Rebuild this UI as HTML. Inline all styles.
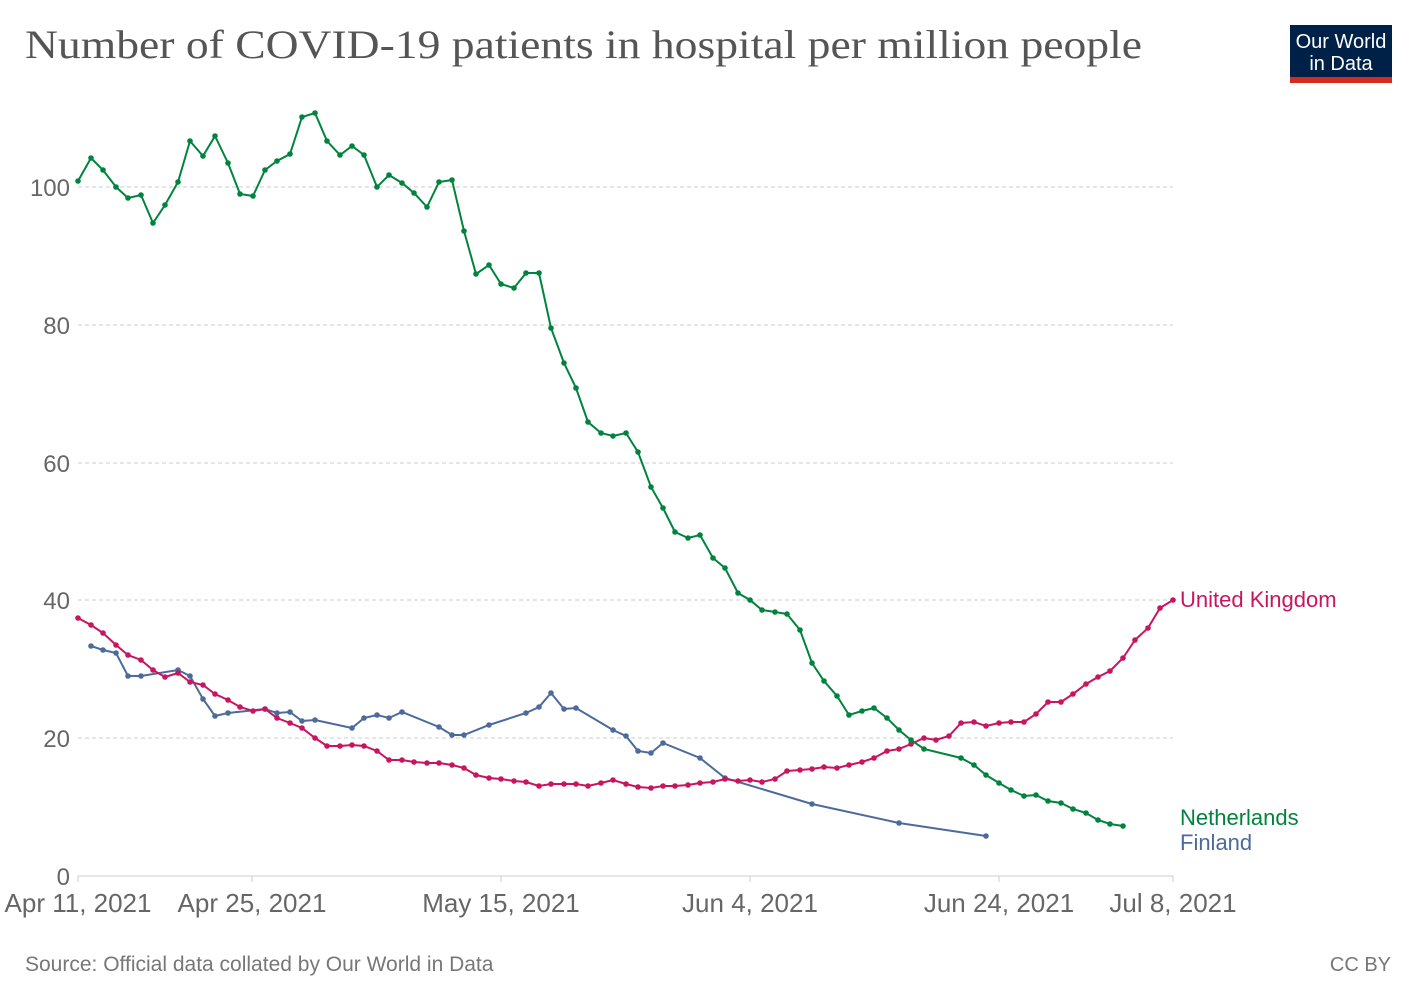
<!DOCTYPE html>
<html><head><meta charset="utf-8"><style>
html,body{margin:0;padding:0;background:#fff;}
svg{display:block;}
</style></head><body>
<svg width="1417" height="1000" xmlns="http://www.w3.org/2000/svg">
<defs>
<marker id="mg" markerWidth="6" markerHeight="6" refX="3" refY="3" markerUnits="userSpaceOnUse"><circle cx="3" cy="3" r="2.8" fill="#00843d"/></marker>
<marker id="mp" markerWidth="6" markerHeight="6" refX="3" refY="3" markerUnits="userSpaceOnUse"><circle cx="3" cy="3" r="2.8" fill="#c8155f"/></marker>
<marker id="mb" markerWidth="6" markerHeight="6" refX="3" refY="3" markerUnits="userSpaceOnUse"><circle cx="3" cy="3" r="2.8" fill="#4c6a9c"/></marker>
</defs>
<text x="25" y="58" font-family="Liberation Serif, serif" font-size="40" fill="#555" textLength="1117" lengthAdjust="spacingAndGlyphs">Number of COVID-19 patients in hospital per million people</text>
<rect x="1290" y="25" width="102" height="52" fill="#002147"/>
<rect x="1290" y="77" width="102" height="6" fill="#d42b21"/>
<text x="1341" y="48" text-anchor="middle" font-family="Liberation Sans, sans-serif" font-size="20" fill="#fff">Our World</text>
<text x="1341" y="70" text-anchor="middle" font-family="Liberation Sans, sans-serif" font-size="20" fill="#fff">in Data</text>
<g stroke="#ccc" stroke-dasharray="4,3" stroke-width="1">
<line x1="78" x2="1173" y1="187" y2="187"/><line x1="78" x2="1173" y1="325" y2="325"/>
<line x1="78" x2="1173" y1="463" y2="463"/><line x1="78" x2="1173" y1="600" y2="600"/>
<line x1="78" x2="1173" y1="738" y2="738"/>
</g>
<line x1="78" x2="1173" y1="876" y2="876" stroke="#ccc"/>
<g stroke="#ccc"><line x1="78" x2="78" y1="876" y2="882"/><line x1="252" x2="252" y1="876" y2="882"/><line x1="501" x2="501" y1="876" y2="882"/><line x1="750" x2="750" y1="876" y2="882"/><line x1="999" x2="999" y1="876" y2="882"/><line x1="1173" x2="1173" y1="876" y2="882"/></g>
<g font-family="Liberation Sans, sans-serif" font-size="24" fill="#666" text-anchor="end">
<text x="70" y="196">100</text><text x="70" y="334">80</text><text x="70" y="472">60</text><text x="70" y="609">40</text><text x="70" y="747">20</text><text x="70" y="885">0</text>
</g>
<g font-family="Liberation Sans, sans-serif" font-size="26" fill="#666" text-anchor="middle">
<text x="78" y="912">Apr 11, 2021</text><text x="252" y="912">Apr 25, 2021</text><text x="501" y="912">May 15, 2021</text><text x="750" y="912">Jun 4, 2021</text><text x="999" y="912">Jun 24, 2021</text><text x="1173" y="912">Jul 8, 2021</text>
</g>
<polyline fill="none" stroke="#4c6a9c" stroke-width="2" marker-start="url(#mb)" marker-mid="url(#mb)" marker-end="url(#mb)" points="91,646 103,650 116,653 128,676 141,676 178,670 190,676 203,699 215,716 228,713 265,709 277,713 290,712 302,721 315,720 352,728 364,718 377,715 389,718 402,712 439,727 452,735 464,735 489,725 526,713 539,707 551,693 564,709 576,708 613,730 626,736 638,751 651,753 663,743 700,758 725,778 812,804 899,823 986,836"/>
<polyline fill="none" stroke="#c8155f" stroke-width="2" marker-start="url(#mp)" marker-mid="url(#mp)" marker-end="url(#mp)" points="78,618 91,625 103,633 116,645 128,655 141,660 153,670 165,677 178,673 190,682 203,685 215,694 228,700 240,707 253,711 265,709 277,718 290,723 302,728 315,738 327,746 340,746 352,745 364,746 377,751 389,760 402,760 414,762 427,763 439,763 452,765 464,768 476,775 489,778 501,779 514,781 526,782 539,786 551,784 564,784 576,784 588,786 601,783 613,780 626,784 638,787 651,788 663,786 675,786 688,785 700,783 713,782 725,779 738,781 750,780 762,782 775,779 787,771 800,770 812,769 824,767 837,768 849,765 862,762 874,758 887,751 899,749 911,744 924,738 936,740 949,736 961,723 974,722 986,726 999,723 1011,722 1024,722 1036,714 1048,702 1061,702 1073,694 1086,684 1098,677 1110,671 1123,658 1135,640 1148,628 1160,608 1173,600"/>
<polyline fill="none" stroke="#00843d" stroke-width="2" marker-start="url(#mg)" marker-mid="url(#mg)" marker-end="url(#mg)" points="78,181 91,158 103,170 116,187 128,198 141,195 153,223 165,205 178,182 190,141 203,156 215,136 228,163 240,194 253,196 265,170 277,161 290,154 302,117 315,113 327,141 340,155 352,146 364,155 377,187 389,175 402,183 414,193 427,207 439,182 452,180 464,231 476,274 489,265 501,284 514,288 526,273 539,273 551,328 564,363 576,388 588,422 601,433 613,436 626,433 638,452 651,487 663,508 675,532 688,538 700,535 713,558 725,568 738,593 750,600 762,610 775,612 787,614 800,630 812,663 824,681 837,696 849,715 862,711 874,708 887,718 899,730 911,740 924,749 961,758 974,765 986,775 999,783 1011,790 1024,796 1036,795 1048,801 1061,803 1073,809 1086,813 1098,820 1110,824 1123,826"/>
<g font-family="Liberation Sans, sans-serif" font-size="22">
<text x="1180" y="607" fill="#c8155f">United Kingdom</text>
<text x="1180" y="825" fill="#00843d">Netherlands</text>
<text x="1180" y="850" fill="#4c6a9c">Finland</text>
</g>
<text x="25" y="971" font-family="Liberation Sans, sans-serif" font-size="21" fill="#777">Source: Official data collated by Our World in Data</text>
<text x="1391" y="971" text-anchor="end" font-family="Liberation Sans, sans-serif" font-size="20" fill="#777">CC BY</text>
</svg>
</body></html>
